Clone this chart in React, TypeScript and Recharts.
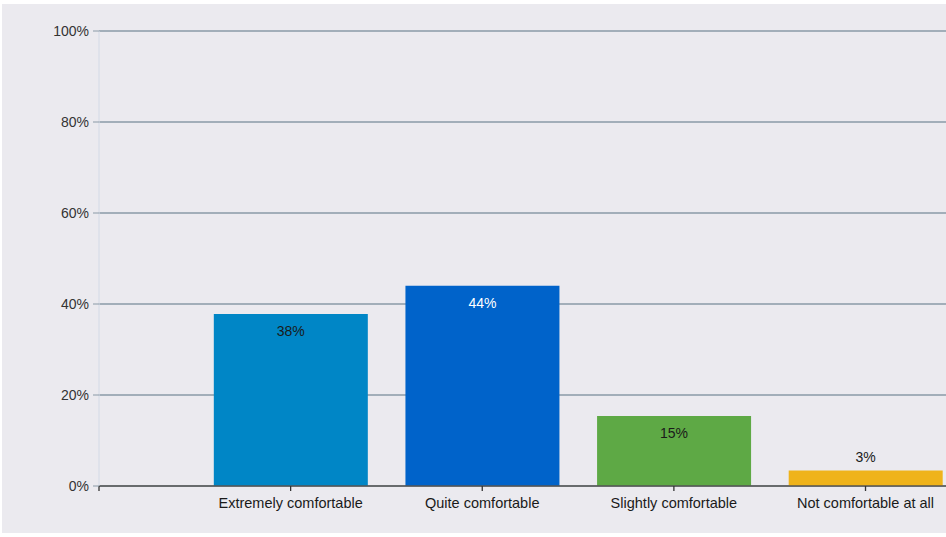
import React from "react";
import { BarChart, Bar, XAxis, YAxis, CartesianGrid, Cell, LabelList } from "recharts";

const categories = ["Extremely comfortable", "Quite comfortable", "Slightly comfortable", "Not comfortable at all"];
const values = [37.8, 44.0, 15.4, 3.4];
const valueLabels = ["38%", "44%", "15%", "3%"];
const barColors = ["#0086C6", "#0063CA", "#5EA945", "#EFB31A"];
const labelColors = ["#1a1a1a", "#ffffff", "#1a1a1a", "#1a1a1a"];
const yTicks = [0, 20, 40, 60, 80, 100];

const data = categories.map((c, i) => ({ pos: i + 1, name: c, value: values[i], label: valueLabels[i] }));
const xTickLabels = ["", ...categories];

const FONT = "'Liberation Sans', Arial, sans-serif";

const renderLabel = (props: any) => {
  const { x, y, width, height, index } = props;
  const short = height < 30;
  const cy = short ? y - 14 : y + 17;
  return (
    <text
      x={x + width / 2}
      y={cy}
      textAnchor="middle"
      dominantBaseline="central"
      fill={short ? "#1a1a1a" : labelColors[index]}
      fontSize={14}
      fontFamily={FONT}
    >
      {valueLabels[index]}
    </text>
  );
};

export default function App() {
  return (
    <div style={{ position: "fixed", left: 0, top: 0, width: 946, height: 537, background: "#ffffff" }}>
      <div style={{ position: "absolute", left: 2, top: 4, width: 944, height: 529, background: "#EBEAEF" }}>
        <BarChart
          width={944}
          height={529}
          data={data}
          margin={{ top: 27, right: 0, bottom: 0, left: 0 }}
        >
          <CartesianGrid horizontal={true} vertical={false} stroke="#8A9AA7" strokeWidth={1.3} />
          <XAxis
            type="number"
            dataKey="pos"
            domain={[0, 4.42]}
            allowDataOverflow
            ticks={[0, 1, 2, 3, 4]}
            tickFormatter={(v: number) => xTickLabels[v] ?? ""}
            height={47}
            tickSize={5}
            tickMargin={7}
            axisLine={{ stroke: "#555555", strokeWidth: 1.5 }}
            tickLine={{ stroke: "#333333", strokeWidth: 1.3 }}
            tick={{ fill: "#1a1a1a", fontSize: 14.5, fontFamily: FONT }}
          />
          <YAxis
            type="number"
            domain={[0, 100]}
            ticks={yTicks}
            tickFormatter={(v: number) => `${v}%`}
            width={97}
            tickSize={6}
            tickMargin={4}
            axisLine={{ stroke: "#D3DAE6", strokeWidth: 1 }}
            tickLine={{ stroke: "#8A9AA7", strokeWidth: 1 }}
            tick={{ fill: "#333333", fontSize: 14, fontFamily: FONT }}
          />
          <Bar dataKey="value" barSize={154} isAnimationActive={false}>
            {data.map((d, i) => (
              <Cell key={d.name} fill={barColors[i]} />
            ))}
            <LabelList dataKey="label" content={renderLabel} />
          </Bar>
        </BarChart>
      </div>
    </div>
  );
}
